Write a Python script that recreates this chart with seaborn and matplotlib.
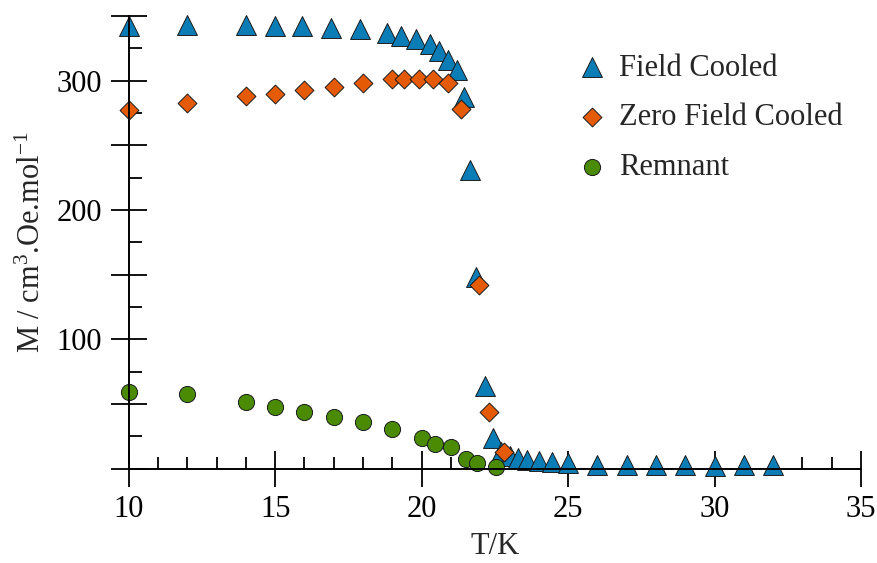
import numpy as np
import pandas as pd
import matplotlib
matplotlib.use("Agg")
import matplotlib.pyplot as plt
import seaborn as sns
from matplotlib.ticker import MultipleLocator, FuncFormatter

# Magnetisation vs temperature
fc_T = [10, 12, 14, 15, 15.9, 16.9, 17.9, 18.8, 19.3, 19.8, 20.3, 20.6, 20.9, 21.2,
        21.45, 21.65, 21.85, 22.15, 22.45, 22.7, 23.0, 23.3, 23.6, 24.0, 24.45, 25.0,
        26.0, 27.0, 28.0, 29.0, 30.0, 31.0, 32.0]
fc_M = [342, 343, 343, 342, 342, 341, 340, 337, 334.5, 332.5, 328, 323, 316, 308,
        287, 231, 148, 64, 24, 13, 9.5, 8, 7, 6, 5, 4.5,
        3, 2.7, 2.7, 2.7, 2.2, 3.2, 2.7]

zfc_T = [10, 12, 14, 15, 16, 17, 18, 19, 19.4, 19.9, 20.4, 20.9, 21.35, 21.95, 22.3, 22.8]
zfc_M = [277, 283, 288, 290, 293, 295, 298, 301, 301, 301, 301, 298.5, 278, 142, 44, 13]

rem_T = [10, 12, 14, 15, 16, 17, 18, 19, 20, 20.45, 21, 21.5, 21.9, 22.55]
rem_M = [59.5, 58, 51.5, 47.5, 44, 40, 36, 30.5, 24, 19, 17, 7.7, 4.6, 1.5]

series_names = ["Field Cooled", "Zero Field Cooled", "Remnant"]
colors = ["#0b7db6", "#e55a04", "#4a8b03"]
markers = ["^", "D", "o"]
sizes = [205, 92, 135]

sns.set_style("ticks")
plt.rcParams["font.family"] = ["Liberation Serif", "DejaVu Serif"]
plt.rcParams["mathtext.fontset"] = "custom"
plt.rcParams["mathtext.rm"] = "Liberation Serif"
plt.rcParams["mathtext.it"] = "Liberation Serif:italic"

FS = 22

fig = plt.figure(figsize=(8.77, 5.63), dpi=100)
ax = fig.add_axes([0.1468, 0.1675, 0.9818 - 0.1468, 0.9716 - 0.1675])

frames = [
    pd.DataFrame({"T": fc_T, "M": fc_M}),
    pd.DataFrame({"T": zfc_T, "M": zfc_M}),
    pd.DataFrame({"T": rem_T, "M": rem_M}),
]
for df, name, c, m, s in zip(frames, series_names, colors, markers, sizes):
    sns.scatterplot(data=df, x="T", y="M", ax=ax, color=c, marker=m, s=s,
                    edgecolor="#1a1a1a", linewidth=0.7, label=name, clip_on=False)

ax.set_xlim(10, 35)
ax.set_ylim(0, 350)
ax.xaxis.set_major_locator(MultipleLocator(5))
ax.xaxis.set_minor_locator(MultipleLocator(1))
ax.yaxis.set_major_locator(MultipleLocator(50))
ax.yaxis.set_minor_locator(MultipleLocator(25))
ax.yaxis.set_major_formatter(
    FuncFormatter(lambda v, p: f"{int(round(v))}" if (round(v) % 100 == 0 and v > 0) else ""))

for side in ["top", "right"]:
    ax.spines[side].set_visible(False)
for side in ["left", "bottom"]:
    ax.spines[side].set_linewidth(1.4)
    ax.spines[side].set_color("black")

ax.tick_params(which="major", direction="inout", length=26, width=1.3,
               labelsize=FS, pad=6, colors="black")
ax.tick_params(which="minor", direction="in", length=9, width=1.3, colors="black")

ax.set_xlabel("T/K", fontsize=FS, labelpad=6)
ax.set_ylabel("M / cm$^3$.Oe.mol$^{-1}$", fontsize=FS, labelpad=7)

leg = ax.legend(loc="upper left", bbox_to_anchor=(549 / 877, 1 - 26 / 563),
                bbox_transform=fig.transFigure, frameon=False, fontsize=FS,
                handlelength=1.0, handletextpad=0.4, labelspacing=0.68,
                borderpad=0.4)

fig.savefig("out.png", dpi=100)
